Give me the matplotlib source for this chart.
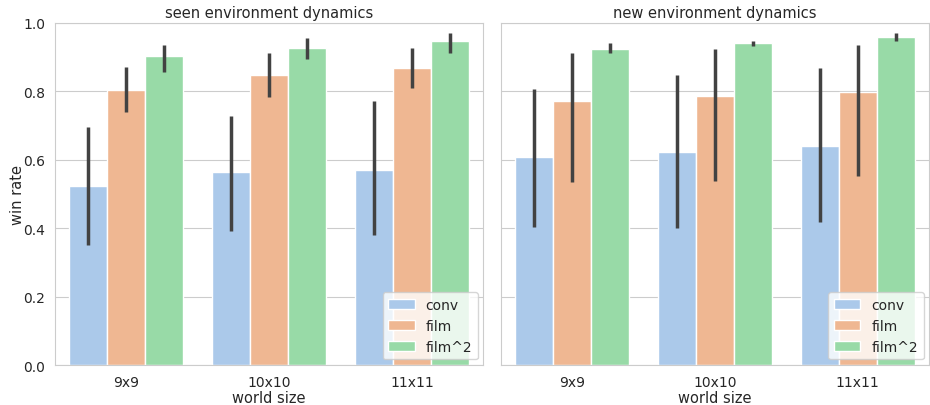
import numpy as np
import matplotlib
matplotlib.use("Agg")
import matplotlib.pyplot as plt
import seaborn as sns

sizes = ['9x9', '10x10', '11x11']
models = ['conv', 'film', 'film^2']

# seen environment dynamics: mean, ci low, ci high  (rows = models, cols = sizes)
seen_mean = [[0.523, 0.564, 0.570],
             [0.804, 0.848, 0.868],
             [0.903, 0.927, 0.947]]
seen_lo = [[0.351, 0.392, 0.380],
           [0.740, 0.784, 0.810],
           [0.857, 0.895, 0.912]]
seen_hi = [[0.696, 0.728, 0.772],
           [0.871, 0.912, 0.927],
           [0.936, 0.956, 0.971]]

# new environment dynamics
new_mean = [[0.608, 0.623, 0.640],
            [0.772, 0.787, 0.798],
            [0.924, 0.941, 0.959]]
new_lo = [[0.403, 0.401, 0.418],
          [0.535, 0.538, 0.553],
          [0.912, 0.933, 0.947]]
new_hi = [[0.807, 0.848, 0.868],
          [0.912, 0.924, 0.936],
          [0.941, 0.947, 0.971]]

sns.set_style('whitegrid')
plt.rcParams['font.family'] = ['DejaVu Sans']
pal = [sns.desaturate(c, 0.75) for c in sns.color_palette('pastel', 3)]

fig, axes = plt.subplots(1, 2, sharey=True, figsize=(9.3, 4.06), dpi=100)
fig.subplots_adjust(left=0.059, right=0.999, bottom=0.0985, top=0.941, wspace=0.04)

def barpanel(ax, mean, lo, hi, title):
    x = np.arange(len(sizes))
    w = 0.8 / len(models)
    for i, m in enumerate(models):
        xs = x - 0.4 + w * (i + 0.5)
        ax.bar(xs, mean[i], width=w, color=pal[i], edgecolor='white', linewidth=1, label=m, zorder=2)
        ax.vlines(xs, lo[i], hi[i], color='.26', linewidth=2.5, zorder=3)
    ax.set_xticks(x)
    ax.set_xticklabels(sizes, fontsize=10)
    ax.set_xlim(-0.5, 2.5)
    ax.set_ylim(0, 1)
    ax.xaxis.grid(False)
    ax.set_axisbelow(True)
    ax.set_title(title, fontsize=10.5, pad=4)
    ax.set_xlabel('world size', fontsize=10.5, labelpad=1)
    ax.tick_params(axis='y', labelsize=10)
    ax.legend(loc='lower right', fontsize=10, handlelength=1.9, borderaxespad=0.4)

barpanel(axes[0], seen_mean, seen_lo, seen_hi, 'seen environment dynamics')
barpanel(axes[1], new_mean, new_lo, new_hi, 'new environment dynamics')
axes[0].set_ylabel('win rate', fontsize=10.5, labelpad=-1)
axes[1].set_ylabel('')

plt.savefig('out.png', dpi=100)
